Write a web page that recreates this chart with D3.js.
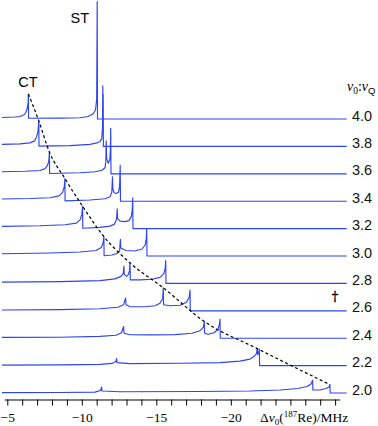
<!DOCTYPE html>
<html><head><meta charset="utf-8">
<script src="https://cdn.jsdelivr.net/npm/d3@7"></script>
<style>body{margin:0;background:#fff} svg{display:block}</style>
</head><body><svg id="c" width="378" height="426"></svg>
<script>
// ratio labels (top to bottom)
const ratios = ["4.0","3.8","3.6","3.4","3.2","3.0","2.8","2.6","2.4","2.2","2.0"];
// spectra: [shift in MHz, intensity (arb.)]
const spec40 = [[-4.644,1.5],[-5.517,2],[-5.852,2.5],[-6.121,4.2],[-6.242,6.5],[-6.336,10.5],[-6.396,16],[-6.416,25],[-6.430,0.8],[-8.537,0.9],[-9.879,1.3],[-10.416,2.5],[-10.752,5],[-10.919,9],[-11.0,20],[-11.034,117.5],[-11.054,0],[-27.779,0]];
const spec38 = [[-4.644,2],[-5.852,2.5],[-6.523,3.5],[-6.826,5.5],[-6.966,9.5],[-7.060,15],[-7.114,25.5],[-7.128,0.3],[-9.208,0.8],[-10.550,2],[-11.020,3.5],[-11.221,5],[-11.336,7.5],[-11.389,18],[-11.409,60.5],[-11.423,35],[-11.436,52],[-11.450,0],[-27.779,0]];
const spec36 = [[-4.644,2],[-6.188,2.5],[-7.195,3.3],[-7.530,5.2],[-7.698,8.5],[-7.785,13],[-7.826,21.8],[-7.839,0.3],[-9.879,1],[-10.886,2],[-11.356,3.5],[-11.557,6],[-11.611,12],[-11.638,33],[-11.664,16],[-11.779,10.5],[-11.879,14],[-11.919,24],[-11.940,45.5],[-11.960,0],[-27.779,0]];
const spec34 = [[-4.644,2.2],[-6.523,2.7],[-7.866,3.5],[-8.470,5.3],[-8.711,8.8],[-8.819,14],[-8.866,22.7],[-8.879,0.3],[-10.550,1.2],[-11.557,2.5],[-11.893,4.5],[-12.013,9],[-12.060,24.3],[-12.087,12],[-12.174,8.5],[-12.315,7.7],[-12.463,9],[-12.537,15],[-12.577,36],[-12.597,0],[-27.779,0]];
const spec32 = [[-4.644,2.2],[-7.195,2.8],[-8.872,3.8],[-9.644,5.5],[-9.893,9],[-10.0,14],[-10.054,22.3],[-10.067,0.3],[-11.221,1.2],[-11.893,2.5],[-12.195,4.5],[-12.329,9],[-12.376,19.7],[-12.403,10],[-12.564,7.5],[-12.899,7],[-13.168,8],[-13.322,12],[-13.389,19],[-13.416,30.7],[-13.436,0],[-27.779,0]];
const spec30 = [[-4.644,2.3],[-7.866,3],[-9.879,4],[-10.953,5.5],[-11.309,8.5],[-11.430,13],[-11.483,19.4],[-11.497,0.3],[-12.027,1],[-12.362,2.5],[-12.537,5],[-12.591,16.7],[-12.617,8],[-12.966,5.5],[-13.570,5],[-14.040,7],[-14.255,11],[-14.329,18],[-14.356,27.7],[-14.376,0],[-27.779,0]];
const spec28 = [[-4.644,1.3],[-8.537,1.8],[-11.221,2.8],[-12.228,4.5],[-12.631,7],[-12.785,10],[-12.826,17.2],[-12.852,9],[-13.0,7],[-13.134,9],[-13.201,13],[-13.235,20.5],[-13.255,3.5],[-13.906,3.5],[-14.711,4.2],[-15.248,6],[-15.503,9.5],[-15.597,15],[-15.631,22.8],[-15.651,0],[-27.779,0]];
const spec26 = [[-4.644,0.8],[-8.537,1.2],[-11.221,2],[-12.430,3.5],[-12.799,6],[-12.940,12.7],[-12.966,6],[-13.235,4.2],[-14.242,4],[-14.913,5],[-15.248,7.5],[-15.423,12],[-15.470,23],[-15.490,6],[-15.919,5],[-16.591,5.5],[-17.027,8.5],[-17.208,13.5],[-17.262,20.5],[-17.282,0],[-27.779,0]];
const spec24 = [[-4.644,0.8],[-8.537,1],[-11.221,1.8],[-12.295,3],[-12.664,5.5],[-12.805,11.7],[-12.832,5],[-13.235,3.5],[-14.577,3.3],[-16.255,3.6],[-17.396,5],[-17.933,7.5],[-18.161,11],[-18.221,16.7],[-18.242,5],[-18.470,4],[-18.872,5.5],[-19.141,9],[-19.235,14],[-19.275,19],[-19.295,0],[-27.779,0]];
const spec22 = [[-4.644,0.5],[-8.537,0.7],[-11.221,1.2],[-12.027,2.2],[-12.282,4],[-12.336,7],[-12.362,3],[-13.235,2],[-16.591,2.3],[-19.275,3],[-20.617,4.5],[-21.289,6.5],[-21.557,9],[-21.718,12],[-21.772,17],[-21.812,11],[-21.879,13],[-21.913,16.5],[-21.933,0],[-27.779,0]];
const spec20 = [[-4.644,0.4],[-8.537,0.5],[-10.886,0.9],[-11.255,2.5],[-11.329,6],[-11.356,2],[-12.564,1.3],[-17.933,1.5],[-21.289,2],[-23.302,3],[-24.510,4.5],[-25.114,6.5],[-25.383,9],[-25.490,12.7],[-25.510,3],[-25.987,3],[-26.389,4.5],[-26.591,6],[-26.651,8.4],[-26.671,0],[-27.779,0]];
const spectra = [spec40,spec38,spec36,spec34,spec32,spec30,spec28,spec26,spec24,spec22,spec20];
// central-transition horn positions and heights (dashed guide)
const ctShift = [-6.416,-7.114,-7.826,-8.866,-10.054,-11.483,-13.235,-15.470,-18.221,-21.772,-26.651];
const ctHeight = [25,25.5,21.8,22.7,22.3,19.4,20.5,23,16.7,17,8.4];
// axis ticks
const majorTicks = [-5,-10,-15,-20];
const allTicks = [-5,-6,-7,-8,-9,-10,-11,-12,-13,-14,-15,-16,-17,-18,-19,-20,-21,-22,-23,-24,-25,-26,-27];

const svg = d3.select("#c");
const sans = "'Liberation Sans', Arial, sans-serif";
const serif = "'Liberation Serif', 'Times New Roman', serif";
const blue = "#2c44f2";

const x = d3.scaleLinear().domain([-5,-20]).range([7.3,230.8]);
const yRow = d3.scaleLinear().domain([4.0,2.0]).range([119,393]);
const yInt = d3.scaleLinear().domain([0,100]).range([0,100]);

const line = (base) => d3.line().x(d=>x(d[0])).y(d=>base - yInt(d[1]));

spectra.forEach((s,i)=>{
  const base = yRow(+ratios[i]);
  svg.append("path").attr("d", line(base)(s))
    .attr("fill","none").attr("stroke",blue).attr("stroke-width",1.15)
    .attr("stroke-linejoin","round");
  svg.append("text").attr("x",352).attr("y",base+1.5)
    .attr("font-family",sans).attr("font-size",14.5).attr("fill","#111").text(ratios[i]);
});

// dashed guide through CT horns
const ctPts = ctShift.map((v,i)=>[x(v), yRow(+ratios[i]) - yInt(ctHeight[i])]);
svg.append("path").attr("d", d3.line().curve(d3.curveMonotoneX)(ctPts))
  .attr("fill","none").attr("stroke","#000").attr("stroke-width",1.2)
  .attr("stroke-dasharray","3,2.5");

// x axis
const xa = d3.scaleLinear().domain([-4.8,-27.3]).range([x(-4.8), x(-27.3)]);
const ax = svg.append("g").attr("transform","translate(0,399.5)")
  .call(d3.axisBottom(xa).tickValues(allTicks).tickSize(6).tickSizeOuter(0).tickPadding(7)
    .tickFormat(d => majorTicks.includes(d) ? "\u2212" + (-d) : ""));
ax.select(".domain").attr("stroke","#000").attr("stroke-width",1.2);
ax.selectAll(".tick line").attr("stroke","#000").attr("stroke-width",1);
ax.selectAll(".tick text").attr("font-family",serif).attr("font-size",13.5).attr("fill","#000");

// axis title
const t = svg.append("text").attr("x",260).attr("y",421.5)
  .attr("font-family",serif).attr("font-size",13.5).attr("fill","#000");
t.append("tspan").text("\u0394");
t.append("tspan").attr("font-style","italic").text("\u03bd");
t.append("tspan").attr("font-size",9).attr("dy",3).text("0");
t.append("tspan").attr("dy",-3).text("(");
t.append("tspan").attr("font-size",9).attr("dy",-5).text("187");
t.append("tspan").attr("dy",5).text("Re)/MHz");

// ratio header
const h = svg.append("text").attr("x",347).attr("y",90.5)
  .attr("font-family",serif).attr("font-size",14).attr("fill","#000");
h.append("tspan").attr("font-style","italic").text("\u03bd");
h.append("tspan").attr("font-size",9.5).attr("dy",3).text("0");
h.append("tspan").attr("dy",-3).text(":");
h.append("tspan").attr("font-style","italic").text("\u03bd");
h.append("tspan").attr("font-size",9.5).attr("dy",3).attr("font-family",sans).text("Q");

// ST / CT labels
svg.append("text").attr("x",70.5).attr("y",22.7).attr("font-family",sans).attr("font-size",14.5).attr("fill","#000").text("ST");
svg.append("text").attr("x",18.3).attr("y",86.7).attr("font-family",sans).attr("font-size",14.5).attr("fill","#000").text("CT");
// dagger
svg.append("text").attr("x",335).attr("y",301).attr("text-anchor","middle").attr("font-family","'DejaVu Serif', serif").attr("font-size",13)
  .attr("fill","#000").attr("stroke","#000").attr("stroke-width",0.3).text("\u2020");
</script></body></html>
